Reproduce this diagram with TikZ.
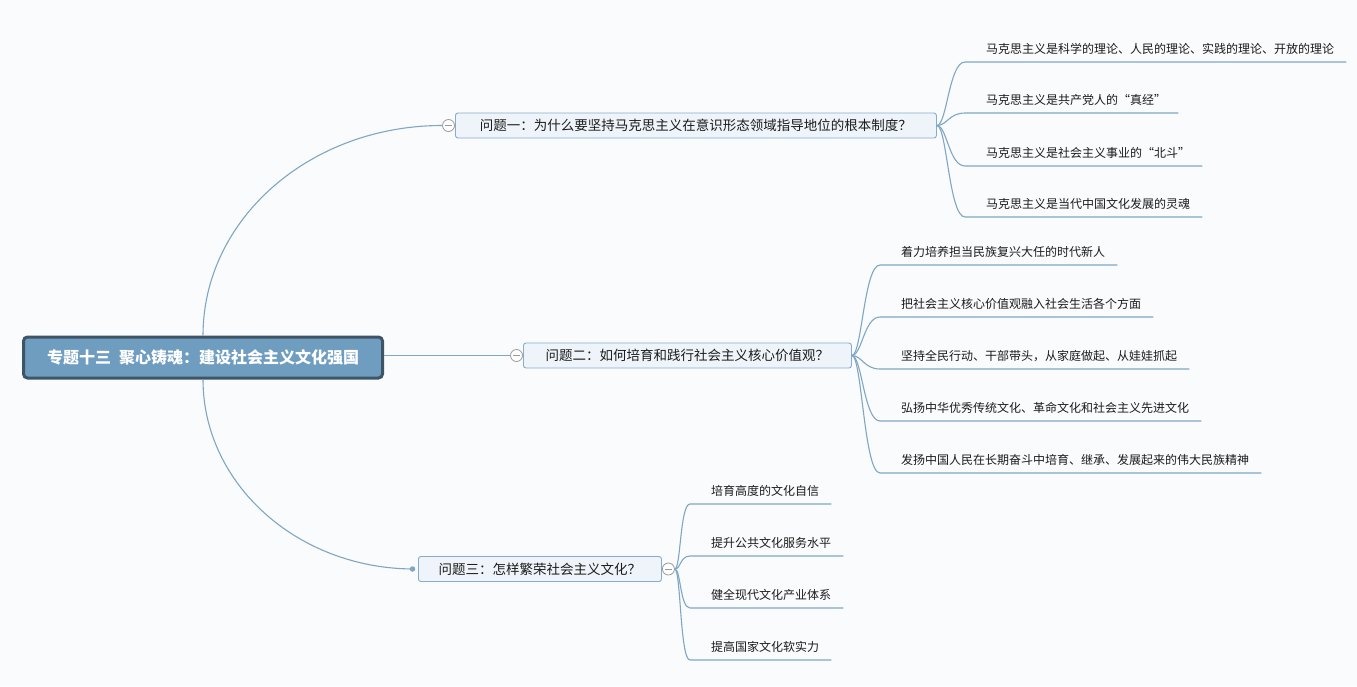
\documentclass[tikz,border=0pt]{standalone}
\usepackage{fontspec}
\setmainfont{Noto Sans CJK SC}
\usepackage{tikz}
\usetikzlibrary{calc}
\definecolor{paper}{HTML}{FAFBFC}
\definecolor{ink}{HTML}{1C1C1C}
\definecolor{wire}{HTML}{7FA6C4}
\definecolor{rootfill}{HTML}{6F9DC0}
\definecolor{rootline}{HTML}{3E5568}
\definecolor{qfill}{HTML}{EEF4F9}
\definecolor{qline}{HTML}{86ACCA}
\definecolor{knob}{HTML}{9A9A9A}

\begin{document}
\begin{tikzpicture}[x=1pt,y=-1pt,text=ink,
              link/.style={draw=wire,line width=1.1pt},
              rootbox/.style={draw=rootline,fill=rootfill,line width=3pt,rounded corners=4pt,
                minimum width=359pt,minimum height=41pt,text=white,
                font=\fontsize{16}{18}\selectfont\bfseries},
              qbox/.style={draw=qline,fill=qfill,line width=0.9pt,rounded corners=2.5pt,anchor=west,
                minimum height=25pt,inner xsep=20pt,font=\fontsize{13.5}{15}\selectfont},
              leaf/.style={anchor=south west,inner sep=0pt,text height=12pt,text depth=8pt,
                font=\fontsize{12}{14}\selectfont},
              fold/.style={circle,draw=knob,fill=white,line width=0.8pt,minimum size=12pt,inner sep=0pt,
                path picture={\draw[knob,line width=1pt] ([xshift=2.5pt]path picture bounding box.west)
                  -- ([xshift=-2.5pt]path picture bounding box.east);}},
              dot/.style={circle,fill=wire,minimum size=5.5pt,inner sep=0pt}]
  \fill[paper] (0,0) rectangle (1357,686);
  \useasboundingbox (0,0) rectangle (1357,686);

  \node[rootbox] (root) at (203,357.5) {专题十三\enskip 聚心铸魂：建设社会主义文化强国};

  \node[qbox,minimum width=481pt] (q1) at (455,125.5) {问题一：为什么要坚持马克思主义在意识形态领域指导地位的根本制度？};
  \node[qbox,minimum width=328pt] (q2) at (523,355.5) {问题二：如何培育和践行社会主义核心价值观？};
  \node[qbox,minimum width=243pt] (q3) at (418,569) {问题三：怎样繁荣社会主义文化？};

  \node[leaf] (a1) at (986,62) {马克思主义是科学的理论、人民的理论、实践的理论、开放的理论};
  \node[leaf] (a2) at (986,113) {马克思主义是共产党人的“真经”};
  \node[leaf] (a3) at (986,166) {马克思主义是社会主义事业的“北斗”};
  \node[leaf] (a4) at (986,217) {马克思主义是当代中国文化发展的灵魂};

  \node[leaf] (b1) at (901,265) {着力培养担当民族复兴大任的时代新人};
  \node[leaf] (b2) at (901,317) {把社会主义核心价值观融入社会生活各个方面};
  \node[leaf] (b3) at (901,369) {坚持全民行动、干部带头，从家庭做起、从娃娃抓起};
  \node[leaf] (b4) at (901,421) {弘扬中华优秀传统文化、革命文化和社会主义先进文化};
  \node[leaf] (b5) at (901,473) {发扬中国人民在长期奋斗中培育、继承、发展起来的伟大民族精神};

  \node[leaf] (c1) at (711,504) {培育高度的文化自信};
  \node[leaf] (c2) at (711,556) {提升公共文化服务水平};
  \node[leaf] (c3) at (711,608) {健全现代文化产业体系};
  \node[leaf] (c4) at (711,660) {提高国家文化软实力};

  \node[fold] (f1) at (q1.west) [xshift=-6.5pt] {};
  \node[fold] (f2) at (q2.west) [xshift=-6.5pt] {};
  \node[fold] (f3) at (q3.east) [xshift=6.5pt] {};
  \node[dot] (d3) at (q3.west) [xshift=-5.5pt] {};

  \draw[link] (root.north) .. controls (203,219) and (310,125.5) .. (f1.west);
  \draw[link] (root.east |- f2.west) -- (f2.west);
  \draw[link] (root.south) .. controls (203,483) and (296,568) .. (d3.center);

  \foreach \n in {a1,a2,a3,a4}
    \draw[link] (q1.east) .. controls +(10,0) and +(-16,0) .. ([xshift=-21pt]\n.south west)
      -- ([xshift=12pt]\n.south east);
  \foreach \n in {b1,b2,b3,b4,b5}
    \draw[link] (q2.east) .. controls +(10,0) and +(-16,0) .. ([xshift=-21pt]\n.south west)
      -- ([xshift=12pt]\n.south east);
  \foreach \n in {c1,c2,c3,c4}
    \draw[link] (f3.east) .. controls +(6,0) and +(-10,0) .. ([xshift=-21pt]\n.south west)
      -- ([xshift=12pt]\n.south east);
\end{tikzpicture}
\end{document}
